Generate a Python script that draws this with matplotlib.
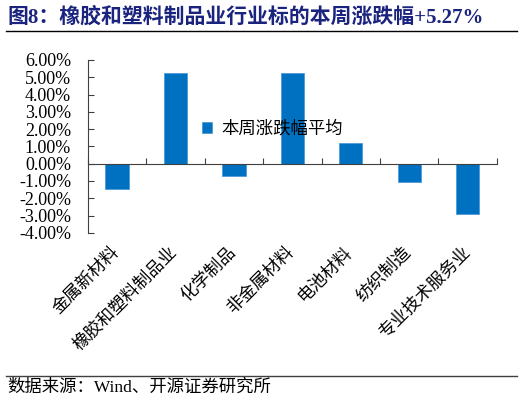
import numpy as np
import matplotlib as mpl
mpl.use('Agg')
import matplotlib.pyplot as plt
from matplotlib.lines import Line2D
from matplotlib.ticker import MultipleLocator, FuncFormatter
import matplotlib.transforms as mtransforms

plt.rcParams['font.family'] = ['Liberation Serif', 'Noto Sans CJK SC']

## data
categories = ['金属新材料', '橡胶和塑料制品业', '化学制品', '非金属材料',
              '电池材料', '纺织制造', '专业技术服务业']
weekly_change = [-1.46, 5.27, -0.74, 5.26, 1.18, -1.06, -2.90]
legend_label = '本周涨跌幅平均'
title = '图8：橡胶和塑料制品业行业标的本周涨跌幅+5.27%'
source = '数据来源：Wind、开源证券研究所'

cjk = ['Noto Sans CJK SC', 'DejaVu Sans']
blue = '#0070C0'
navy = '#1a237e'

fig = plt.figure(figsize=(5.22, 4.05), dpi=100)
ax = fig.add_axes([0.168, 0.425, 0.784, 0.427])

x = np.arange(len(categories))
ax.bar(x, weekly_change, width=0.4, color=blue, edgecolor='#4f9ad8',
       linewidth=0.6, label=legend_label, zorder=2)

ax.set_xlim(-0.5, len(categories) - 0.5)
ax.set_ylim(-4, 6)
ax.yaxis.set_major_locator(MultipleLocator(1))
ax.yaxis.set_major_formatter(FuncFormatter(lambda v, p: '%.2f%%' % v))
ax.tick_params(axis='y', direction='in', length=4, width=0.8,
               colors='#404040', labelcolor='black', labelsize=13, pad=12)

# x axis sits on zero, ticks mark category boundaries
for s in ['top', 'right']:
    ax.spines[s].set_visible(False)
ax.spines['bottom'].set_position(('data', 0))
ax.spines['left'].set_color('#404040')
ax.spines['bottom'].set_color('#404040')
ax.set_xticks(np.arange(len(categories) + 1) - 0.5)
ax.set_xticklabels([])
ax.tick_params(axis='x', direction='in', length=4, width=0.8, colors='#404040')

trans = mtransforms.blended_transform_factory(ax.transData, ax.transAxes)
for xi, name in zip(x, categories):
    ax.text(xi - 0.12, -0.06, name, transform=trans, rotation=45,
            rotation_mode='anchor', ha='right', va='top', fontsize=12.5,
            family=cjk)

leg = ax.legend(loc='upper left', bbox_to_anchor=(0.262, 0.693), frameon=False,
                prop={'family': cjk, 'size': 12.5}, handlelength=0.6,
                handleheight=0.6, handletextpad=0.5, borderaxespad=0)

fig.text(0.014, 0.957, title, fontsize=15, fontweight='bold', color=navy,
         family=['Liberation Serif', 'Noto Sans CJK SC'], va='center')
fig.add_artist(Line2D([0.011, 0.99], [0.923, 0.923], color='black', lw=1.0))
fig.add_artist(Line2D([0.011, 0.99], [0.072, 0.072], color='#404040', lw=1.0))
fig.text(0.014, 0.042, source, fontsize=12.5, family=['Liberation Serif', 'Noto Sans CJK SC'],
         va='center')

fig.savefig('out.png', dpi=100)
